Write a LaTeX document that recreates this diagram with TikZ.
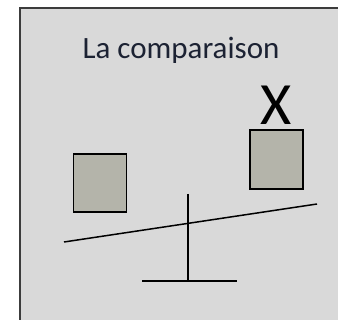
\documentclass[tikz,border=0pt]{standalone}
\usepackage{fontspec}
\setmainfont{Carlito}
\definecolor{panelgray}{HTML}{D9D9D9}
\definecolor{weightgray}{HTML}{B4B4AA}
\definecolor{framegray}{HTML}{3C3C3C}
\definecolor{titleblue}{HTML}{1C2233}
\tikzset{
  weight/.style={draw=black, line width=1.4pt, fill=weightgray, minimum width=53pt, minimum height=58pt, inner sep=0pt},
  bar/.style={line width=1.5pt, black}
}
\begin{document}
\begin{tikzpicture}[x=1pt, y=-1pt]
\useasboundingbox (0,0) rectangle (338,320);
\clip (0,0) rectangle (338,320);
\draw[framegray, line width=2.5pt, fill=panelgray] (20,8) rectangle (360,340);
\node[titleblue, font=\fontsize{31}{36}\selectfont, inner sep=0pt] (title) at (181,50) {La comparaison};
\node[weight] (left) at (100,183) {};
\node[weight, minimum height=59pt] (right) at (276.5,159.5) {};
\node[font=\fontsize{60}{66}\selectfont, inner sep=0pt, anchor=south] (unknown) at (276,125) {X};
% balance
\coordinate (beamL) at (64,242);
\coordinate (beamR) at (317,204);
\coordinate (postT) at (188,194);
\coordinate (postB) at (188,281);
\coordinate (baseL) at (142,281);
\coordinate (baseR) at (237,281);
\draw[bar] (beamL)--(beamR);
\draw[bar] (postT)--(postB);
\draw[bar] (baseL)--(baseR);
\end{tikzpicture}
\end{document}
